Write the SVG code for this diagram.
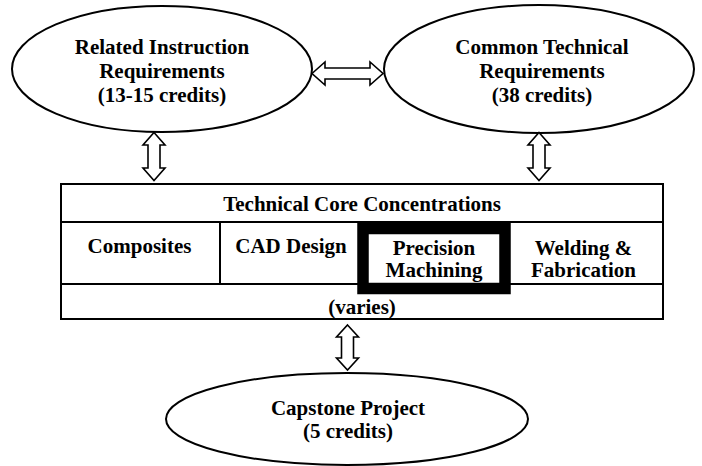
<svg xmlns="http://www.w3.org/2000/svg" width="702" height="466" viewBox="0 0 702 466">
<style>
.sh{fill:#fff;stroke:#000;stroke-width:2}
.ln{stroke:#000;stroke-width:2;fill:none}
.ar{fill:#fff;stroke:#000;stroke-width:1.6;stroke-linejoin:miter}
.t{font-family:'Liberation Serif','Times New Roman','DejaVu Serif',serif;font-weight:bold;font-size:21px;text-anchor:middle;fill:#000}
</style>
<rect width="702" height="466" fill="#fff"/>
<g id="related">
<ellipse class="sh" cx="162" cy="69" rx="150" ry="63"/>
<text class="t" x="162" y="54">Related Instruction</text>
<text class="t" x="162" y="78">Requirements</text>
<text class="t" x="162" y="102">(13-15 credits)</text>
</g>
<g id="common">
<ellipse class="sh" cx="539" cy="69" rx="155" ry="64"/>
<text class="t" x="542" y="54">Common Technical</text>
<text class="t" x="542" y="78">Requirements</text>
<text class="t" x="542" y="102">(38 credits)</text>
</g>
<g id="core">
<rect class="sh" x="61" y="184" width="602" height="135"/>
<line class="ln" x1="61" y1="222" x2="663" y2="222"/>
<line class="ln" x1="61" y1="284" x2="663" y2="284"/>
<line class="ln" x1="220" y1="222" x2="220" y2="284"/>
<text class="t" x="362" y="211">Technical Core Concentrations</text>
<text class="t" x="139.5" y="253">Composites</text>
<text class="t" x="291" y="253">CAD Design</text>
<text class="t" x="583.5" y="255">Welding &amp;</text>
<text class="t" x="583.5" y="277">Fabrication</text>
<text class="t" x="362" y="314">(varies)</text>
</g>
<g id="precision">
<rect x="363" y="228.5" width="142" height="60" fill="#fff" stroke="#000" stroke-width="11.5"/>
<text class="t" x="434" y="255">Precision</text>
<text class="t" x="434" y="277">Machining</text>
</g>
<g id="capstone">
<ellipse class="sh" cx="347" cy="419" rx="181" ry="46"/>
<text class="t" x="348" y="415">Capstone Project</text>
<text class="t" x="348" y="438">(5 credits)</text>
</g>
<g id="connectors">
<polygon class="ar" points="312,73.5 325,62 325,68 370,68 370,62 383,73.5 370,85 370,79 325,79 325,85"/>
<polygon class="ar" points="154,132.5 165,145 160,145 160,168 165,168 154,180.5 143,168 148,168 148,145 143,145"/>
<polygon class="ar" points="539,132.5 550,145 545,145 545,168 550,168 539,180.5 528,168 533,168 533,145 528,145"/>
<polygon class="ar" points="347.5,325 358.5,337 353.5,337 353.5,358 358.5,358 347.5,370 336.5,358 341.5,358 341.5,337 336.5,337"/>
</g>
</svg>
